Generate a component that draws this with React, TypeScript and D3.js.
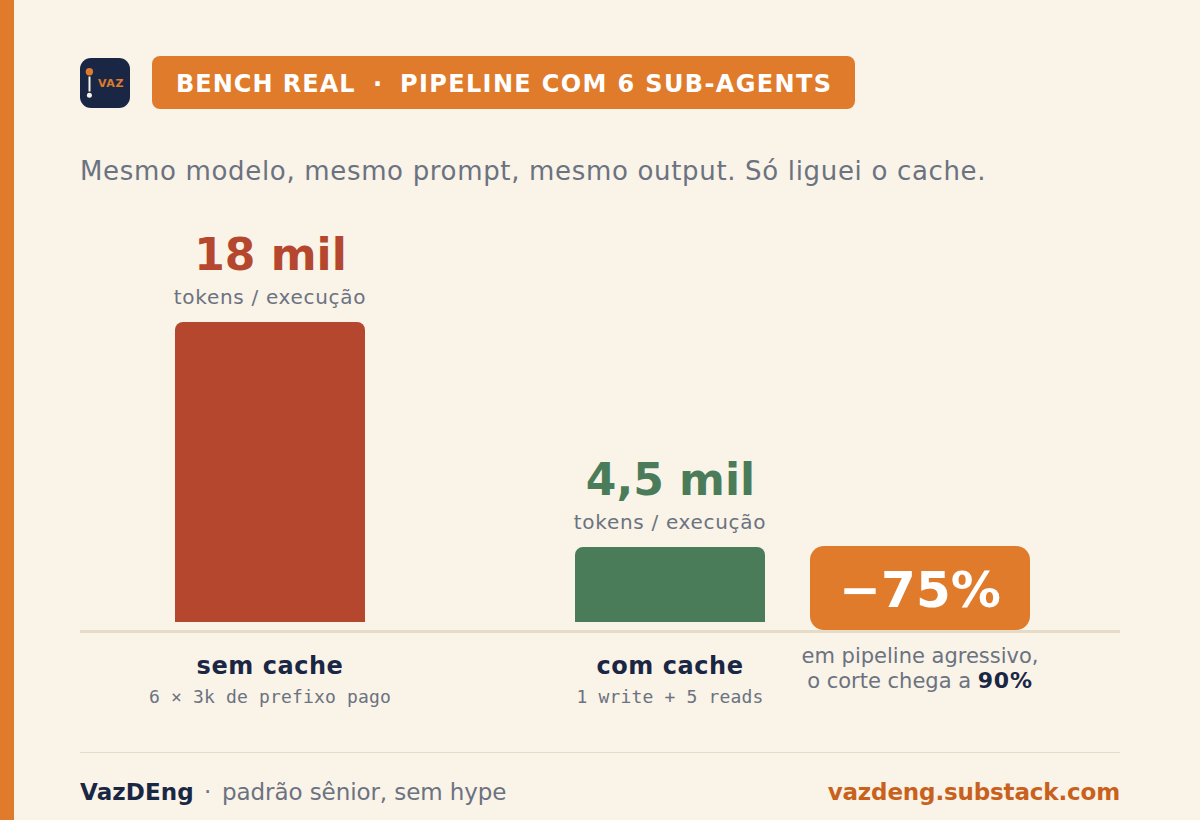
import React from "react";
import * as d3 from "d3";

const categories = ["sem cache", "com cache"];
const tokens = [18, 4.5];
const valueLabels = ["18 mil", "4,5 mil"];
const details = ["6 × 3k de prefixo pago", "1 write + 5 reads"];
const barColors = ["#B5472E", "#4A7C59"];
const unitLabel = "tokens / execução";
const headlineParts = ["BENCH REAL", "·", "PIPELINE COM 6 SUB-AGENTS"];
const subtitle = "Mesmo modelo, mesmo prompt, mesmo output. Só liguei o cache.";
const footerParts = ["VazDEng", "·", "padrão sênior, sem hype"];

const SANS = "'DejaVu Sans', sans-serif";
const MONO = "'DejaVu Sans Mono', monospace";
const ORANGE = "#E07B2C";
const NAVY = "#1A2744";
const GRAY = "#6B7280";

const x = d3.scaleBand<string>().domain(categories).range([70, 870]).paddingInner(0).paddingOuter(0);
const y = d3.scaleLinear().domain([0, 18]).range([622, 322]);
const barW = 190;

function topRound(x0: number, y0: number, w: number, h: number, r: number) {
  const p = d3.path();
  p.moveTo(x0, y0 + h);
  p.lineTo(x0, y0 + r);
  p.arcTo(x0, y0, x0 + r, y0, r);
  p.lineTo(x0 + w - r, y0);
  p.arcTo(x0 + w, y0, x0 + w, y0 + r, r);
  p.lineTo(x0 + w, y0 + h);
  p.closePath();
  return p.toString();
}

export default function App() {
  return (
    <svg width={1200} height={820} viewBox="0 0 1200 820"
      style={{ position: "absolute", left: 0, top: 0, display: "block" }} fontFamily={SANS}>
      <rect width={1200} height={820} fill="#FAF3E8" />
      <rect width={14} height={820} fill={ORANGE} />

      <rect x={80} y={58} width={50} height={50} rx={11} fill={NAVY} />
      <circle cx={89.4} cy={71.8} r={3.7} fill={ORANGE} />
      <rect x={88.5} y={76.5} width={2} height={15} fill="#FAF3E8" />
      <circle cx={89.4} cy={95.3} r={2.5} fill="#FAF3E8" />
      <text x={98} y={87} fontSize={11} fontWeight={700} fill={ORANGE} letterSpacing={0.6}>VAZ</text>

      <rect x={152} y={56} width={703} height={53} rx={8} fill={ORANGE} />
      <text x={176} y={92} fontSize={24} fontWeight={700} fill="#fff" letterSpacing={1}>{headlineParts[0]}</text>
      <text x={373} y={92} fontSize={24} fontWeight={700} fill="#fff">{headlineParts[1]}</text>
      <text x={400} y={92} fontSize={24} fontWeight={700} fill="#fff" letterSpacing={1.36}>{headlineParts[2]}</text>

      <text x={80} y={180} fontSize={26} fill={GRAY} letterSpacing={0.67}>{subtitle}</text>

      {categories.map((c, i) => {
        const cx = (x(c) as number) + x.bandwidth() / 2;
        const top = y(tokens[i]);
        return (
          <g key={c}>
            <path d={topRound(cx - barW / 2, top, barW, y(0) - top, 8)} fill={barColors[i]} />
            <text x={cx + 0.5} y={top - 52} textAnchor="middle" fontSize={44} fontWeight={700} fill={barColors[i]}>{valueLabels[i]}</text>
            <text x={cx} y={top - 18} textAnchor="middle" fontSize={20} fill={GRAY} letterSpacing={0.7}>{unitLabel}</text>
            <text x={cx} y={674} textAnchor="middle" fontSize={24} fontWeight={700} fill={NAVY} letterSpacing={0.55}>{c}</text>
            <text x={cx} y={703} textAnchor="middle" fontSize={18} fontFamily={MONO} fill={GRAY} letterSpacing={0.16}>{details[i]}</text>
          </g>
        );
      })}

      <rect x={80} y={630} width={1040} height={3} fill="#E5DCC8" />

      <rect x={810} y={546} width={220} height={84} rx={14} fill={ORANGE} />
      <text x={920} y={607} textAnchor="middle" fontSize={50} fontWeight={700} fill="#fff">−75%</text>
      <text x={920} y={663} textAnchor="middle" fontSize={21} fill={GRAY}>em pipeline agressivo,</text>
      <text x={920} y={688} textAnchor="middle" fontSize={21} fill={GRAY}>o corte chega a <tspan fontSize={22} letterSpacing={0.8} fontWeight={700} fill={NAVY}>90%</tspan></text>

      <rect x={80} y={752} width={1040} height={1} fill="#E5DCC8" />
      <text x={80} y={800} fontSize={23} fontWeight={700} fill={NAVY} letterSpacing={0.12}>{footerParts[0]}</text>
      <text x={204} y={800} fontSize={23} fill={GRAY}>{footerParts[1]}</text>
      <text x={222} y={800} fontSize={23} fill={GRAY} letterSpacing={-0.08}>{footerParts[2]}</text>
      <text x={1120} y={800} textAnchor="end" fontSize={23} fontWeight={700} fill="#C8611C" letterSpacing={-0.15}>vazdeng.substack.com</text>
    </svg>
  );
}
